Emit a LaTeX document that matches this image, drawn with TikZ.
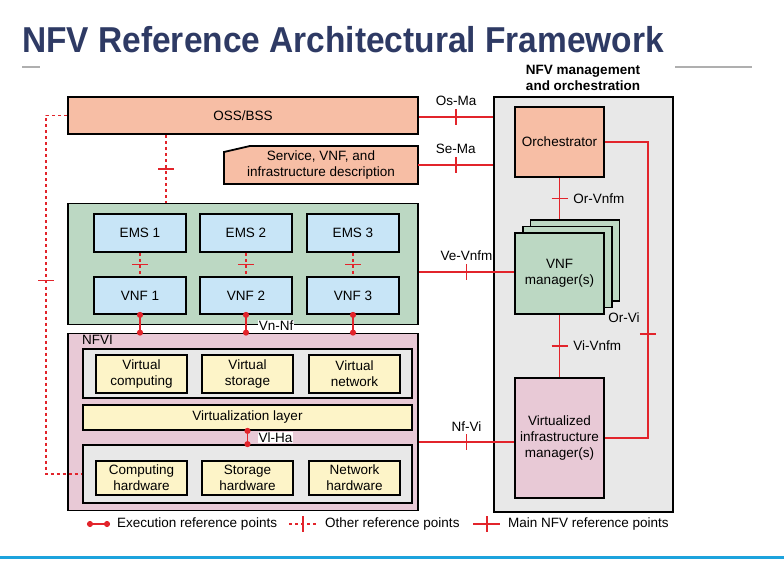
\documentclass[tikz,border=0pt]{standalone}
\usepackage{fontspec}
\setmainfont{Liberation Sans}
\usetikzlibrary{calc,positioning,arrows.meta}
\definecolor{nfvred}{HTML}{E2242B}
\definecolor{titleblue}{HTML}{2E3A64}
\definecolor{salmon}{HTML}{F7BEA5}
\definecolor{vnfgreen}{HTML}{BCD8C3}
\definecolor{emsblue}{HTML}{C8E5F7}
\definecolor{nfvipink}{HTML}{E8C9D6}
\definecolor{resyellow}{HTML}{FDF4C8}
\definecolor{layergray}{HTML}{E8E8E8}
\definecolor{rulegray}{HTML}{AFAFAF}
\definecolor{rulecyan}{HTML}{1CA3DD}

\begin{document}
\begin{tikzpicture}[x=1pt,y=-1pt,
  every node/.style={font=\fontsize{13.5}{16}\selectfont},
  box/.style={draw, line width=1.8pt, inner sep=0pt, align=center},
  mainref/.style={draw=nfvred, line width=1.8pt},
  otherref/.style={mainref, dash pattern=on 3pt off 3pt},
  execref/.style={mainref, {Circle[length=6pt]}-{Circle[length=6pt]}, shorten <=-3pt, shorten >=-3pt},
  reflabel/.style={inner sep=1pt},
  vtick/.pic={\draw[mainref] (0,-8) -- (0,8);},
  htick/.pic={\draw[mainref] (-8,0) -- (8,0);}]
\useasboundingbox (0,0) rectangle (784,561);

\node[anchor=base west, inner sep=0pt, text=titleblue, font=\fontsize{36}{40}\selectfont\bfseries] (title) at (22,53) {\scalebox{0.93}[1]{NFV Reference Architectural Framework}};
\draw[rulegray, line width=1.3pt] (22,67) -- (40,67) (675,67) -- (752,67);
\draw[rulecyan, line width=3pt] (0,557) -- (784,557);

\node[box, fill=layergray, minimum width=179pt, minimum height=415pt] (mano) at (583.5,304.5) {};
\node[align=center, font=\fontsize{13.5}{16}\selectfont\bfseries] (manotitle) at (583,78) {NFV management\\and orchestration};

\node[box, fill=salmon, minimum width=350pt, minimum height=37pt] (oss) at (243,115.5) {OSS/BSS};
\draw[line width=1.8pt, fill=salmon] (224,152) -- (250,146) -- (418,146) -- (418,184) -- (224,184) -- cycle;
\node[align=center, minimum width=194pt, minimum height=38pt, inner sep=0pt] (desc) at (321,165) {Service, VNF, and\\infrastructure description};

\node[box, fill=vnfgreen, minimum width=350pt, minimum height=121pt] (vnfbox) at (243,264) {};
\foreach \i/\x in {1/140,2/246,3/353} {
  \node[box, fill=emsblue, minimum width=92pt, minimum height=38pt] (ems\i) at (\x,233) {EMS \i};
  \node[box, fill=emsblue, minimum width=92pt, minimum height=37pt] (vnf\i) at (\x,295.5) {VNF \i};
}

\node[box, fill=nfvipink, minimum width=350pt, minimum height=177pt] (nfvi) at (243,422) {};
\node[anchor=north west, inner sep=0pt] (nfvilabel) at (82,335) {NFVI};
\node[box, fill=layergray, minimum width=329pt, minimum height=49pt] (vres) at (247.5,373.5) {};
\node[box, fill=resyellow, minimum width=91pt, minimum height=38pt] (vcomp) at (141.5,374) {Virtual\\computing};
\node[box, fill=resyellow, minimum width=91pt, minimum height=38pt] (vstor) at (247.5,374) {Virtual\\storage};
\node[box, fill=resyellow, minimum width=91pt, minimum height=38pt] (vnet) at (354.5,374) {Virtual\\network};
\node[box, fill=resyellow, minimum width=329pt, minimum height=25pt] (vlayer) at (247.5,417.5) {Virtualization layer};
\node[box, fill=layergray, minimum width=329pt, minimum height=58pt] (hw) at (247.5,474) {};
\node[box, fill=resyellow, minimum width=91pt, minimum height=34pt] (hwcomp) at (141.5,478) {Computing\\hardware};
\node[box, fill=resyellow, minimum width=91pt, minimum height=34pt] (hwstor) at (247.5,478) {Storage\\hardware};
\node[box, fill=resyellow, minimum width=91pt, minimum height=34pt] (hwnet) at (354.5,478) {Network\\hardware};

\node[box, fill=salmon, minimum width=89pt, minimum height=70pt] (orch) at (559.5,142) {Orchestrator};
\node[box, fill=vnfgreen, minimum width=89pt, minimum height=81pt] (vnfm3) at (575,260.5) {};
\node[box, fill=vnfgreen, minimum width=89pt, minimum height=81pt] (vnfm2) at (567.5,267) {};
\node[box, fill=vnfgreen, minimum width=89pt, minimum height=81pt] (vnfm1) at (559.5,273.5) {VNF\\manager(s)};
\node[box, fill=nfvipink, minimum width=89pt, minimum height=120pt] (vim) at (559.5,438) {Virtualized\\infrastructure\\manager(s)};

\coordinate (osma) at ($(oss.east)+(0,1.5)$);
\draw[mainref] (osma) -- (osma -| mano.west) node[midway, above=9pt, reflabel] {Os-Ma};
\pic at ($(osma)!0.5!(osma -| mano.west)$) {vtick};
\draw[mainref] (desc.east) -- (desc.east -| mano.west) node[midway, above=9pt, reflabel] {Se-Ma};
\pic at ($(desc.east)!0.5!(desc.east -| mano.west)$) {vtick};
\coordinate (vevnfm) at ($(vnfm1.west)+(0,-1.5)$);
\draw[mainref] (vnfbox.east |- vevnfm) -- (vevnfm) node[midway, above=9pt, reflabel] {Ve-Vnfm};
\pic at ($(vnfbox.east |- vevnfm)!0.5!(vevnfm)$) {vtick};
\coordinate (nfvi2vim) at ($(vim.west)+(0,4)$);
\draw[mainref] (nfvi.east |- nfvi2vim) -- (nfvi2vim) node[midway, above=9pt, reflabel] {Nf-Vi};
\pic at ($(nfvi.east |- nfvi2vim)!0.5!(nfvi2vim)$) {vtick};
\draw[mainref] (orch.south) -- (orch.south |- vnfm3.north) node[midway, right=12pt, reflabel] {Or-Vnfm};
\pic at ($(orch.south)!0.5!(orch.south |- vnfm3.north)$) {htick};
\draw[mainref] (vnfm1.south) -- (vim.north) node[midway, right=12pt, reflabel] {Vi-Vnfm};
\pic at ($(vnfm1.south)!0.5!(vim.north)$) {htick};
\draw[mainref] (orch.east) -- ++(43,0) coordinate (orvitop) |- (vim.east) coordinate[pos=0.5] (orvibot);
\pic at ($(orvitop)!0.65!(orvibot)$) {htick};
\node[anchor=east, reflabel] (orvi) at ($(orvitop)!0.62!(orvibot)+(-7,-8)$) {Or-Vi};

\draw[otherref] ($(oss.south west)+(99,0)$) coordinate (ossdown) -- (ossdown |- vnfbox.north);
\pic at ($(ossdown)!0.5!(ossdown |- vnfbox.north)$) {htick};
\draw[otherref] (oss.west) -- ++(-21,0) coordinate (ossleft) |- (hw.west);
\pic at ($(ossleft)!0.46!(ossleft |- hw.west)$) {htick};
\foreach \i in {1,2,3} {
  \draw[otherref] (ems\i.south) -- (vnf\i.north);
  \pic at ($(ems\i.south)!0.5!(vnf\i.north)$) {htick};
  \draw[execref] (vnf\i.south) -- (vnf\i.south |- nfvi.north);
}
\node[fill=white, reflabel] (vnnf) at ($(vnfbox.south)+(33,0)$) {Vn-Nf};
\draw[execref] (vlayer.south) -- (hw.north);
\node[fill=white, reflabel, anchor=west] (vlha) at ($(vlayer.south)!0.5!(hw.north)+(10,0)$) {Vl-Ha};

\node[anchor=west, inner sep=0pt] (lexec) at (117,524) {Execution reference points};
\draw[execref] ($(lexec.west)+(-27,0)$) -- ($(lexec.west)+(-10,0)$);
\node[anchor=west, inner sep=0pt] (lother) at (325,524) {Other reference points};
\draw[otherref] ($(lother.west)+(-36,0)$) -- ($(lother.west)+(-7,0)$);
\pic at ($(lother.west)+(-22,0)$) {vtick};
\node[anchor=west, inner sep=0pt] (lmain) at (508,524) {Main NFV reference points};
\draw[mainref] ($(lmain.west)+(-35,0)$) -- ($(lmain.west)+(-8,0)$);
\pic at ($(lmain.west)+(-21,0)$) {vtick};
\end{tikzpicture}
\end{document}
